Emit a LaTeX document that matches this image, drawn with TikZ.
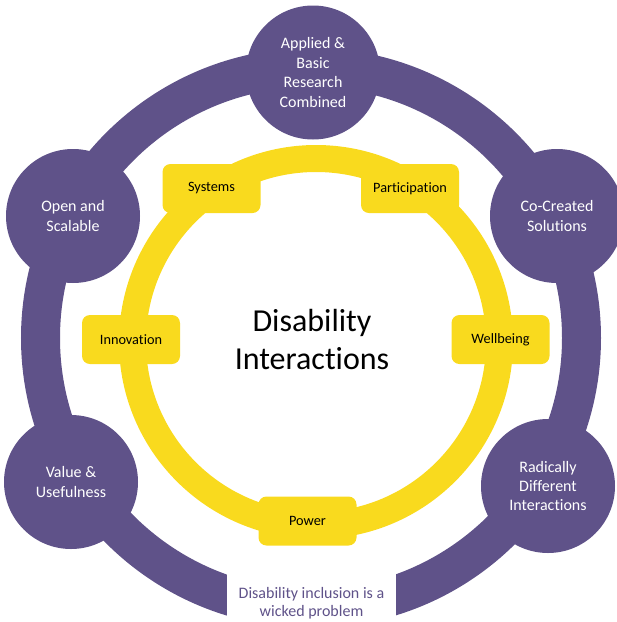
\documentclass[tikz,border=0pt]{standalone}
\usepackage{fontspec}
\setmainfont{Carlito}[Ligatures=NoCommon]
\definecolor{ringpurple}{HTML}{5F5289}
\definecolor{ringyellow}{HTML}{F9DA1E}
\definecolor{notetext}{HTML}{5F5289}
\begin{document}
\begin{tikzpicture}[x=1pt,y=-1pt,
  hub/.style={circle, fill=ringpurple, minimum size=134pt, inner sep=0pt,
    text=white, align=center, font=\fontsize{16}{19.4}\selectfont},
  tag/.style={rectangle, rounded corners=8pt, fill=ringyellow,
    minimum width=98pt, minimum height=49pt, inner sep=0pt,
    text=black, font=\fontsize{14.3}{17}\selectfont},
]
\useasboundingbox (0,0) rectangle (617,622);

% outer purple ring
\draw[ringpurple, line width=39pt] (311,338) circle[radius=270.5pt];

% principle circles on the outer ring
\node[hub] (research) at (313,72.5) {Applied \&\\Basic\\Research\\Combined};
\node[hub] (open)     at (73,216)   {Open and\\Scalable};
\node[hub] (cocreate) at (557,216)  {Co-Created\\Solutions};
\node[hub] (value)    at (71,482)   {Value \&\\Usefulness};
\node[hub] (radical)  at (548,486)  {Radically\\Different\\Interactions};

% gap in the ring with the note
\fill[white] (227,568.5) rectangle (395.5,622);
\node[text=notetext, align=center, font=\fontsize{16}{18.5}\selectfont]
  (wicked) at (311.5,603) {Disability inclusion is a\\wicked problem};

% inner yellow ring
\draw[ringyellow, line width=27pt] (316,342) circle[radius=183.5pt];

% themes on the inner ring
\node[tag] (systems)       at (211.5,188.5) {Systems};
\node[tag] (participation) at (410,188.5)   {Participation};
\node[tag] (innovation)    at (131,339.5)   {Innovation};
\node[tag] (wellbeing)     at (500.5,339.5) {Wellbeing};
\node[tag] (power)         at (307.5,521)   {Power};

% centre title
\node[align=center, font=\fontsize{32}{38}\selectfont] (title) at (312,340)
  {Disability\\Interactions};
\end{tikzpicture}
\end{document}
